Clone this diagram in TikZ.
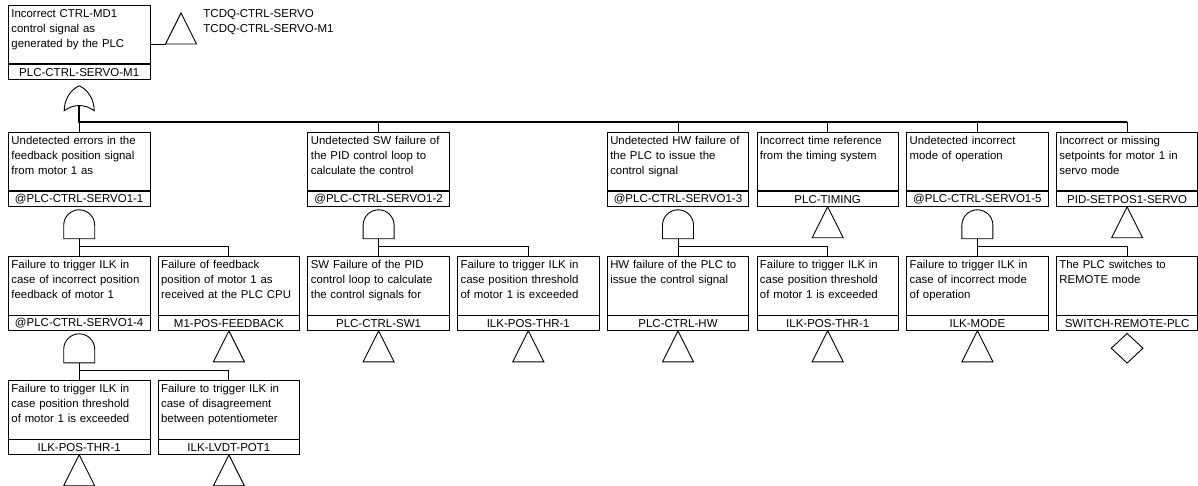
\documentclass[tikz,border=0pt]{standalone}
\usepackage{fontspec}
\setmainfont{Liberation Sans}
\usetikzlibrary{positioning,shapes.geometric}
\hyphenpenalty=10000

\tikzset{
  pics/andgate/.style = {code = {
    \draw (-15.5,29) -- (-15.5,15.5)
      arc[start angle=180, end angle=0, radius=15.5pt] -- (15.5,29) -- cycle;
    \coordinate (-out) at (0,29);
  }},
  pics/orgate/.style = {code = {
    \draw (0,0) .. controls (9,4) and (15,14) .. (15,25)
      .. controls (6,18) and (-6,18) .. (-15,25)
      .. controls (-15,14) and (-9,4) .. cycle;
    \coordinate (-out) at (0,20);
  }},
  pics/transfer/.style = {code = {
    \draw (0,0) -- (15.5,31) -- (-15.5,31) -- cycle;
    \coordinate (-w) at (-15.5,31);
  }}
}

\begin{document}
\begin{tikzpicture}[
  x = 1pt, y = -1pt,
  line width = 0.9pt,
  event/.style = {
    draw, rectangle, anchor = north west,
    text width = 135.5pt, align = left,
    inner xsep = 3pt, inner ysep = 2.5pt,
    text height = 10pt, text depth = 43.5pt,
    font = \fontsize{11.4}{15}\selectfont
  },
  evid/.style = {
    draw, rectangle, inner sep = 0pt,
    minimum width = 141.5pt, minimum height = 14.5pt,
    font = \fontsize{11.5}{14}\selectfont
  },
  undev/.style = {
    draw, diamond, inner sep = 0pt, anchor = north,
    minimum width = 32pt, minimum height = 30pt
  },
  bus/.style = {line width = 1.5pt},
  node distance = 0pt
]
  \useasboundingbox (0,0) rectangle (1198,486);

  % Ereignisse
  \node[event] (top) at (8,5) {Incorrect CTRL-MD1\\control signal as\\generated by the PLC};
  \node[evid, below=of top] (top-id) {PLC-CTRL-SERVO-M1};
  \node[anchor=north west, align=left, inner sep=0pt, font=\fontsize{11.5}{15}\selectfont]
    (tcdq) at (203,9.5) {TCDQ-CTRL-SERVO\\TCDQ-CTRL-SERVO-M1};

  \node[event] (fb) at (8,132) {Undetected errors in the\\feedback position signal\\from motor 1 as};
  \node[evid, below=of fb] (fb-id) {@PLC-CTRL-SERVO1-1};
  \node[event] (sw) at (307.4,132) {Undetected SW failure of\\the PID control loop to\\calculate the control};
  \node[evid, below=of sw] (sw-id) {@PLC-CTRL-SERVO1-2};
  \node[event] (hw) at (606.8,132) {Undetected HW failure of\\the PLC to issue the\\control signal};
  \node[evid, below=of hw] (hw-id) {@PLC-CTRL-SERVO1-3};
  \node[event] (tim) at (756.5,132) {Incorrect time reference\\from the timing system};
  \node[evid, below=of tim] (tim-id) {PLC-TIMING};
  \node[event] (mode) at (906.2,132) {Undetected incorrect\\mode of operation};
  \node[evid, below=of mode] (mode-id) {@PLC-CTRL-SERVO1-5};
  \node[event] (setp) at (1055.9,132) {Incorrect or missing\\setpoints for motor 1 in\\servo mode};
  \node[evid, below=of setp] (setp-id) {PID-SETPOS1-SERVO};

  \node[event] (ilkfb) at (8,256) {Failure to trigger ILK in\\case of incorrect position\\feedback of motor 1};
  \node[evid, below=of ilkfb] (ilkfb-id) {@PLC-CTRL-SERVO1-4};
  \node[event] (m1pos) at (157.7,256) {Failure of feedback\\position of motor 1 as\\received at the PLC CPU};
  \node[evid, below=of m1pos] (m1pos-id) {M1-POS-FEEDBACK};
  \node[event] (swpid) at (307.4,256) {SW Failure of the PID\\control loop to calculate\\the control signals for};
  \node[evid, below=of swpid] (swpid-id) {PLC-CTRL-SW1};
  \node[event] (thrb) at (457.1,256) {Failure to trigger ILK in\\case position threshold\\of motor 1 is exceeded};
  \node[evid, below=of thrb] (thrb-id) {ILK-POS-THR-1};
  \node[event] (hwplc) at (606.8,256) {HW failure of the PLC to\\issue the control signal};
  \node[evid, below=of hwplc] (hwplc-id) {PLC-CTRL-HW};
  \node[event] (thrc) at (756.5,256) {Failure to trigger ILK in\\case position threshold\\of motor 1 is exceeded};
  \node[evid, below=of thrc] (thrc-id) {ILK-POS-THR-1};
  \node[event] (ilkmode) at (906.2,256) {Failure to trigger ILK in\\case of incorrect mode\\of operation};
  \node[evid, below=of ilkmode] (ilkmode-id) {ILK-MODE};
  \node[event] (remote) at (1055.9,256) {The PLC switches to\\REMOTE mode};
  \node[evid, below=of remote] (remote-id) {SWITCH-REMOTE-PLC};

  \node[event] (thra) at (8,380) {Failure to trigger ILK in\\case position threshold\\of motor 1 is exceeded};
  \node[evid, below=of thra] (thra-id) {ILK-POS-THR-1};
  \node[event] (lvdt) at (157.7,380) {Failure to trigger ILK in\\case of disagreement\\between potentiometer};
  \node[evid, below=of lvdt] (lvdt-id) {ILK-LVDT-POT1};

  % Gatter
  \pic (g0) at ([yshift=-6pt]top-id.south) {orgate};
  \pic (g1) at ([yshift=-3pt]fb-id.south) {andgate};
  \pic (g2) at ([yshift=-3pt]sw-id.south) {andgate};
  \pic (g3) at ([yshift=-3pt]hw-id.south) {andgate};
  \pic (g5) at ([yshift=-3pt]mode-id.south) {andgate};
  \pic (g4) at ([yshift=-3pt]ilkfb-id.south) {andgate};

  % Transfers
  \pic (tr) at (181,13) {transfer};
  \foreach \n in {tim, setp, m1pos, swpid, thrb, hwplc, thrc, ilkmode, thra, lvdt}
    \pic at (\n-id.south) {transfer};
  \node[undev] (remote-dia) at ([yshift=-2pt]remote-id.south) {};

  % Verbindungen
  \draw (top.east |- tr-w) -- (tr-w);
  \draw[bus] (g0-out) |- ([yshift=10pt]setp.north);
  \foreach \n in {fb, sw, hw, tim, mode, setp}
    \draw ([yshift=10pt]\n.north) -- (\n.north);
  \foreach \n in {ilkfb, m1pos}
    \draw (g1-out) |- ([yshift=10pt]\n.north) -- (\n.north);
  \foreach \n in {swpid, thrb}
    \draw (g2-out) |- ([yshift=10pt]\n.north) -- (\n.north);
  \foreach \n in {hwplc, thrc}
    \draw (g3-out) |- ([yshift=10pt]\n.north) -- (\n.north);
  \foreach \n in {ilkmode, remote}
    \draw (g5-out) |- ([yshift=10pt]\n.north) -- (\n.north);
  \foreach \n in {thra, lvdt}
    \draw (g4-out) |- ([yshift=10pt]\n.north) -- (\n.north);
\end{tikzpicture}
\end{document}
